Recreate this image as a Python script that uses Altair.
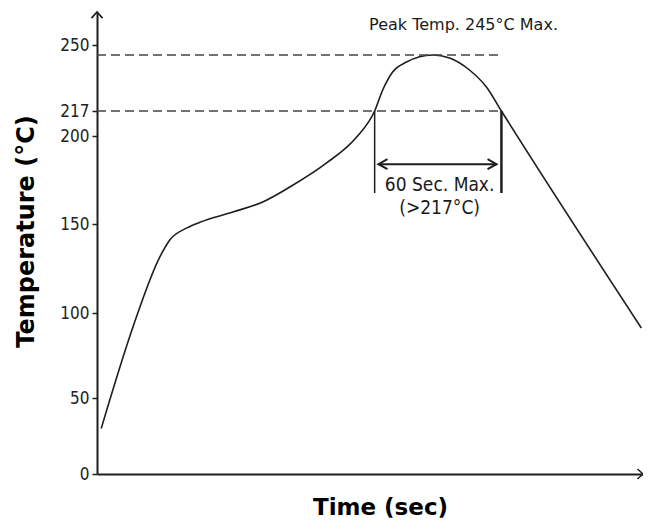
import altair as alt
import pandas as pd

# ---- data ----
curve_t = [2, 17, 29.7, 34.4, 42.5, 48.6, 64.2, 78.3, 91.1, 108.5, 122.7, 131.2,
           135, 139.7, 146.3, 158.6, 166.6, 176, 184, 191.1, 257.2]
curve_temp = [30, 91.8, 131.5, 141, 147.8, 151, 156.8, 162.5, 171, 184.7, 199.4, 217,
              227.5, 236.5, 241.5, 245, 243.5, 237.5, 229, 217, 91.2]

ref_temp = [245, 217]
ref_end = [191.6, 191.1]

window_t = [131.2, 191.1]
window_top = [217, 217]
window_bottom = [167.6, 167.6]
window_width = [1.5, 2.5]

arrow_t = [133, 188.8]
arrow_temp = 184

tick_values = [0, 50, 100, 150, 200, 217, 250]
y_domain = [0, 50, 100, 150, 200, 217, 250, 266]
y_range = [462, 386, 301, 212, 124, 99, 33, 0]
x_domain = [0, 258]

labels_text = ["Peak Temp. 245°C Max.", "60 Sec. Max.", "(>217°C)"]
labels_t = [173.2, 161.9, 161.9]
labels_temp = [259.7, 172, 159]

INK = "#1e1e1e"
FONT = "DejaVu Sans"
FONT_C = "DejaVu Sans Condensed"

xs = alt.Scale(domain=x_domain, nice=False, zero=False)
ys = alt.Scale(domain=y_domain, range=y_range, nice=False, zero=False)

x_axis = alt.Axis(
    title="Time (sec)", labels=False, ticks=False, grid=False,
    domainColor=INK, domainWidth=2, titleFont=FONT, titleFontSize=23,
    titleFontWeight="bold", titleColor="#000", titlePadding=22, titleX=283)
y_axis = alt.Axis(
    title="Temperature (°C)", values=tick_values, grid=False,
    domainColor=INK, domainWidth=2, tickColor=INK, tickWidth=1.5, tickSize=5,
    labelFont=FONT_C, labelFontSize=17, labelColor="#222", labelPadding=3,
    titleFont=FONT, titleFontSize=24, titleFontWeight="bold", titleColor="#000",
    titlePadding=21, titleY=219)


def X(field):
    return alt.X(field, scale=xs, axis=x_axis)


def Y(field):
    return alt.Y(field, scale=ys, axis=y_axis)


curve_df = pd.DataFrame({"t": curve_t, "temp": curve_temp})
curve = alt.Chart(curve_df).mark_line(
    color=INK, strokeWidth=1.6, interpolate="monotone"
).encode(x=X("t:Q"), y=Y("temp:Q"))

ref_df = pd.DataFrame({"temp": ref_temp, "x0": [0, 0], "x1": ref_end})
refs = alt.Chart(ref_df).mark_rule(
    color="#444", strokeWidth=1.5, strokeDash=[9, 5]
).encode(x=X("x0:Q"), x2="x1:Q", y=Y("temp:Q"))

win_df = pd.DataFrame({"t": window_t, "top": window_top, "bot": window_bottom,
                       "w": window_width})
wins = alt.Chart(win_df).mark_rule(color=INK).encode(
    x=X("t:Q"), y=Y("top:Q"), y2="bot:Q",
    strokeWidth=alt.StrokeWidth("w:Q", scale=None, legend=None),
)

arr_df = pd.DataFrame({"a": [arrow_t[0]], "b": [arrow_t[1]], "temp": [arrow_temp]})
arrow_line = alt.Chart(arr_df).mark_rule(color=INK, strokeWidth=2).encode(
    x=X("a:Q"), x2="b:Q", y=Y("temp:Q"),
)
head_l = alt.Chart(pd.DataFrame({"t": [arrow_t[0]], "temp": [arrow_temp]})).mark_point(
    shape="M1,-0.55 L0,0 L1,0.55", size=324, filled=False, color=INK,
    strokeWidth=2, opacity=1
).encode(x=X("t:Q"), y=Y("temp:Q"))
head_r = alt.Chart(pd.DataFrame({"t": [arrow_t[1]], "temp": [arrow_temp]})).mark_point(
    shape="M-1,-0.55 L0,0 L-1,0.55", size=324, filled=False, color=INK,
    strokeWidth=2, opacity=1
).encode(x=X("t:Q"), y=Y("temp:Q"))

# axis arrow heads
y_arrow = alt.Chart(pd.DataFrame({"t": [x_domain[0]], "temp": [y_domain[-1]]})).mark_point(
    shape="M-1,1.1 L0,0 L1,1.1", size=121, filled=False, color=INK,
    strokeWidth=1.8, opacity=1
).encode(x=X("t:Q"), y=Y("temp:Q"))
x_arrow = alt.Chart(pd.DataFrame({"t": [x_domain[1]], "temp": [0]})).mark_point(
    shape="M-1.1,-1 L0,0 L-1.1,1", size=100, filled=False, color=INK,
    strokeWidth=1.5, opacity=1
).encode(x=X("t:Q"), y=Y("temp:Q"))

lab_df = pd.DataFrame({"txt": labels_text, "t": labels_t, "temp": labels_temp})
peak_label = alt.Chart(lab_df.iloc[:1]).mark_text(
    color="#1a1a1a", align="center", baseline="middle", font=FONT, fontSize=16
).encode(x=X("t:Q"), y=Y("temp:Q"), text="txt:N")
other_labels = alt.Chart(lab_df.iloc[1:]).mark_text(
    color="#1a1a1a", align="center", baseline="middle", font=FONT_C, fontSize=19
).encode(x=X("t:Q"), y=Y("temp:Q"), text="txt:N")

chart = alt.layer(
    curve, refs, wins, arrow_line, head_l, head_r, y_arrow, x_arrow,
    peak_label, other_labels
).properties(
    width=546, height=462, autosize="none",
    padding={"left": 89, "top": 4, "right": 0, "bottom": 47},
    background="white",
).configure_view(stroke=None)

chart.save("out.html", embed_options={"renderer": "svg", "actions": False})
